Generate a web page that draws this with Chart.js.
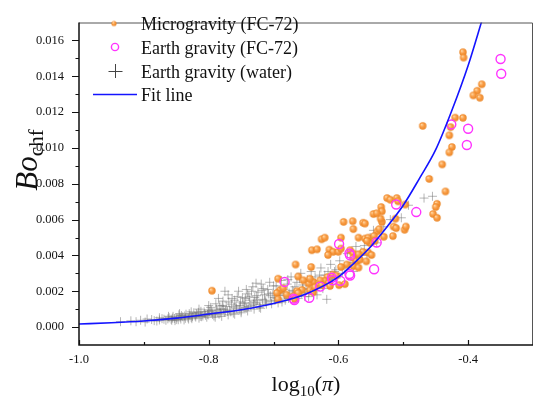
<!DOCTYPE html>
<html><head><meta charset="utf-8">
<script src="https://cdn.jsdelivr.net/npm/chart.js@4/dist/chart.umd.min.js"></script>
<style>html,body{margin:0;padding:0;background:#fff;}#wrap{width:540px;height:404px;}</style>
</head><body><div id="wrap"><canvas id="c" width="540" height="404"></canvas></div>
<script>
// ---- tick values ----
const xTickValues = [-1.0, -0.8, -0.6, -0.4];
const xMinorValues = [-0.9, -0.7, -0.5];
const yTickValues = [0.000, 0.002, 0.004, 0.006, 0.008, 0.010, 0.012, 0.014, 0.016];
const yMinorValues = [0.001, 0.003, 0.005, 0.007, 0.009, 0.011, 0.013, 0.015];

// ---- series labels ----
const seriesLabels = ['Microgravity (FC-72)', 'Earth gravity (FC-72)', 'Earth gravity (water)', 'Fit line'];

// ---- Microgravity (FC-72) ----
const microX = [-0.408,-0.407,-0.379,-0.386,-0.392,-0.382,-0.420,-0.408,-0.470,-0.427,
-0.429,-0.425,-0.429,-0.440,-0.460,-0.435,-0.448,-0.450,-0.525,-0.520,
-0.510,-0.508,-0.497,-0.534,-0.533,-0.454,-0.448,-0.512,-0.498,-0.496,
-0.515,-0.511,-0.533,-0.535,-0.546,-0.541,-0.530,-0.516,-0.540,-0.537,
-0.562,-0.578,-0.592,-0.577,-0.569,-0.559,-0.554,-0.545,-0.544,-0.551,
-0.596,-0.626,-0.621,-0.641,-0.633,-0.614,-0.608,-0.616,-0.600,-0.596,
-0.582,-0.577,-0.666,-0.642,-0.577,-0.572,-0.567,-0.557,-0.562,-0.554,
-0.569,-0.549,-0.587,-0.577,-0.569,-0.596,-0.617,-0.609,-0.603,-0.621,
-0.628,-0.639,-0.646,-0.662,-0.654,-0.644,-0.656,-0.664,-0.644,-0.639,
-0.693,-0.690,-0.695,-0.693,-0.669,-0.667,-0.680,-0.626,-0.615,-0.599,
-0.590,-0.613,-0.636,-0.685,-0.662,-0.795,-0.559,-0.556];
const microY = [0.01534,0.01504,0.01355,0.01319,0.01293,0.01280,0.01169,0.01168,0.01123,0.01116,
0.01070,0.01005,0.00975,0.00908,0.00827,0.00757,0.00688,0.00670,0.00720,0.00711,
0.00720,0.00702,0.00684,0.00670,0.00646,0.00631,0.00610,0.00605,0.00543,0.00561,
0.00561,0.00552,0.00587,0.00605,0.00631,0.00635,0.00504,0.00508,0.00534,0.00547,
0.00582,0.00591,0.00587,0.00547,0.00499,0.00494,0.00499,0.00508,0.00481,0.00469,
0.00499,0.00490,0.00499,0.00429,0.00434,0.00432,0.00420,0.00402,0.00420,0.00438,
0.00429,0.00411,0.00349,0.00335,0.00385,0.00367,0.00376,0.00367,0.00420,0.00416,
0.00406,0.00402,0.00349,0.00340,0.00332,0.00335,0.00279,0.00293,0.00287,0.00258,
0.00261,0.00252,0.00243,0.00282,0.00261,0.00270,0.00208,0.00200,0.00205,0.00194,
0.00270,0.00205,0.00190,0.00155,0.00173,0.00155,0.00181,0.00234,0.00247,0.00234,
0.00240,0.00229,0.00222,0.00217,0.00190,0.00203,0.00578,0.00481];

// ---- Earth gravity (FC-72) ----
const earthX = [-0.350,-0.349,-0.426,-0.400,-0.402,-0.511,-0.480,-0.599,-0.541,-0.583,-0.582,
-0.545,-0.583,-0.582,-0.610,-0.597,-0.609,-0.628,-0.683,-0.645,-0.669,-0.668];
const earthY = [0.01496,0.01414,0.01131,0.01107,0.01016,0.00684,0.00642,0.00464,0.00472,0.00411,0.00400,
0.00323,0.00296,0.00288,0.00275,0.00258,0.00261,0.00226,0.00252,0.00164,0.00159,0.00151];

// ---- Earth gravity (water) ----
const waterX = [-0.912,-0.905,-0.898,-0.888,-0.880,-0.872,-0.866,-0.861,
-0.858,-0.855,-0.852,-0.849,-0.846,-0.843,-0.840,-0.838,-0.835,-0.832,-0.829,-0.826,-0.823,-0.820,-0.818,-0.815,-0.812,-0.809,-0.806,-0.803,-0.801,-0.800,
-0.797,-0.795,-0.792,-0.789,-0.786,-0.784,-0.781,-0.778,-0.776,-0.773,-0.770,-0.768,-0.765,-0.762,-0.760,-0.757,-0.754,-0.752,-0.750,-0.748,
-0.745,-0.742,-0.740,-0.737,-0.735,-0.732,-0.729,-0.727,-0.724,-0.722,-0.719,-0.717,-0.714,-0.711,-0.709,-0.706,-0.704,-0.701,-0.699,
-0.696,-0.693,-0.690,-0.688,-0.685,-0.682,-0.679,-0.676,-0.673,-0.670,-0.667,-0.664,-0.661,-0.658,-0.655,-0.652,
-0.648,-0.645,-0.642,-0.639,-0.636,-0.633,-0.630,-0.627,-0.624,-0.621,-0.618,-0.615,-0.612,-0.609,-0.606,-0.603,
-0.598,-0.594,-0.590,-0.586,-0.582,-0.577,-0.573,-0.569,-0.565,-0.560,-0.556,-0.551,-0.546,-0.541,
-0.530,-0.520,-0.503,-0.492,-0.468,-0.455,
-0.856,-0.850,-0.844,-0.837,-0.831,-0.825,-0.819,-0.813,-0.807,-0.802,-0.796,-0.790,-0.783,-0.777,-0.771,-0.764,-0.758,-0.751,-0.744,-0.738,
-0.731,-0.725,-0.718,-0.712,-0.705,-0.698,-0.691,-0.684,-0.677,-0.669,-0.662,-0.655,
-0.884,-0.876,-0.869,-0.863,-0.857,-0.853,-0.847,-0.842,-0.836,-0.830,
-0.827,-0.821,-0.816,-0.811,-0.805,-0.799,-0.794,-0.788,-0.782,-0.779,
-0.774,-0.769,-0.766,-0.761,-0.756,-0.753,-0.747,-0.743,-0.739,-0.734,
-0.730,-0.726,-0.721,-0.716,-0.713,-0.708,-0.703,-0.700,-0.695,-0.692,
-0.687,-0.683,-0.678,-0.674,-0.671,-0.665,-0.660,-0.657,-0.650,-0.646,
-0.640,-0.635,-0.629,-0.622,-0.616,-0.610,-0.604,-0.800,-0.785,-0.775,
-0.742,-0.727,-0.815,-0.827,-0.845,-0.862,-0.876,-0.895,-0.920,-0.936,
-0.790,-0.780,-0.770,-0.760,-0.750,-0.740,-0.730,-0.720];
const waterY = [0.00030,0.00038,0.00028,0.00042,0.00034,0.00047,0.00038,0.00052,
0.00044,0.00060,0.00036,0.00052,0.00068,0.00045,0.00058,0.00040,0.00072,0.00052,0.00063,0.00047,0.00080,0.00056,0.00068,0.00050,0.00088,0.00062,0.00074,0.00055,0.00096,0.00068,
0.00110,0.00080,0.00062,0.00130,0.00090,0.00072,0.00100,0.00145,0.00082,0.00115,0.00180,0.00095,0.00128,0.00078,0.00150,0.00105,0.00200,0.00120,0.00090,0.00165,
0.00135,0.00105,0.00185,0.00150,0.00120,0.00225,0.00165,0.00135,0.00195,0.00110,0.00240,0.00155,0.00180,0.00128,0.00210,0.00250,0.00145,0.00190,0.00165,
0.00230,0.00135,0.00175,0.00260,0.00210,0.00150,0.00240,0.00190,0.00280,0.00165,0.00225,0.00250,0.00180,0.00300,0.00215,0.00170,
0.00265,0.00195,0.00310,0.00230,0.00280,0.00180,0.00250,0.00330,0.00215,0.00290,0.00155,0.00265,0.00350,0.00240,0.00310,0.00275,
0.00370,0.00300,0.00330,0.00410,0.00360,0.00310,0.00450,0.00390,0.00420,0.00455,0.00400,0.00500,0.00540,0.00470,
0.00560,0.00600,0.00610,0.00680,0.00720,0.00730,
0.00050,0.00042,0.00055,0.00062,0.00045,0.00058,0.00075,0.00060,0.00085,0.00070,0.00092,0.00075,0.00118,0.00100,0.00088,0.00160,0.00118,0.00140,0.00110,0.00172,
0.00128,0.00150,0.00205,0.00140,0.00175,0.00150,0.00200,0.00178,0.00160,0.00200,0.00160,0.00235,
0.00036,0.00040,0.00044,0.00046,0.00038,0.00048,0.00041,0.00064,0.00049,0.00075,
0.00054,0.00062,0.00082,0.00058,0.00066,0.00088,0.00070,0.00100,0.00078,0.00120,
0.00090,0.00140,0.00085,0.00112,0.00170,0.00095,0.00130,0.00160,0.00115,0.00200,
0.00140,0.00175,0.00125,0.00215,0.00150,0.00185,0.00130,0.00230,0.00160,0.00200,
0.00140,0.00185,0.00265,0.00160,0.00205,0.00185,0.00270,0.00190,0.00210,0.00170,
0.00260,0.00205,0.00290,0.00240,0.00310,0.00270,0.00320,0.00120,0.00160,0.00200,
0.00210,0.00245,0.00100,0.00085,0.00075,0.00060,0.00052,0.00045,0.00035,0.00030,
0.00055,0.00060,0.00068,0.00072,0.00080,0.00090,0.00100,0.00105];

// ---- Fit line ----
const fitX = [-1.0,-0.95,-0.9,-0.85,-0.8,-0.75,-0.7,-0.65,-0.6,-0.575,-0.55,-0.525,-0.5,-0.475,-0.45,-0.425,-0.4,-0.378];
const fitY = [0.00017,0.00024,0.00034,0.00050,0.00073,0.00097,0.00132,0.00185,0.0028,0.0036,0.0045,0.0056,0.0068,0.0083,0.0099,0.0121,0.0146,0.0172];

const toPts = (xs, ys) => xs.map((x, i) => ({x: x, y: ys[i]}));

// orange shaded sphere marker
function sphere(r) {
  const s = Math.ceil(r * 2 + 2), c = document.createElement('canvas');
  c.width = s; c.height = s;
  const g = c.getContext('2d'), cx = s / 2, cy = s / 2;
  const grd = g.createRadialGradient(cx - r * 0.35, cy - r * 0.4, 0.3, cx, cy, r);
  grd.addColorStop(0, '#ffd9a6');
  grd.addColorStop(0.45, '#fba04a');
  grd.addColorStop(1, '#ea8423');
  g.fillStyle = grd;
  g.beginPath(); g.arc(cx, cy, r, 0, Math.PI * 2); g.fill();
  return c;
}
const orangeDot = sphere(3.7);
const orangeLegendDot = sphere(2.6);

const SERIF = "'Liberation Serif', 'Times New Roman', serif";
const MAGENTA = '#ff33ff';
const BLUE = '#1414ff';
const CROSS = 'rgba(110,110,110,0.5)';

const decor = {
  id: 'decor',
  afterDatasetsDraw(chart) {
    const {ctx, chartArea: a, scales: {x, y}} = chart;
    ctx.save();
    // top/right frame
    ctx.strokeStyle = '#555'; ctx.lineWidth = 1;
    ctx.beginPath();
    ctx.moveTo(a.left, a.top + 0.5); ctx.lineTo(a.right - 0.5, a.top + 0.5); ctx.lineTo(a.right - 0.5, a.bottom);
    ctx.stroke();
    // left/bottom axes
    ctx.strokeStyle = '#111'; ctx.lineWidth = 1.5;
    ctx.beginPath();
    ctx.moveTo(a.left, a.top); ctx.lineTo(a.left, a.bottom); ctx.lineTo(a.right, a.bottom);
    ctx.stroke();
    // y ticks (outward)
    ctx.lineWidth = 1.2;
    ctx.beginPath();
    yTickValues.forEach(v => { const p = Math.round(y.getPixelForValue(v)) + 0.5; ctx.moveTo(a.left - 7, p); ctx.lineTo(a.left, p); });
    yMinorValues.forEach(v => { const p = Math.round(y.getPixelForValue(v)) + 0.5; ctx.moveTo(a.left - 3.5, p); ctx.lineTo(a.left, p); });
    // x ticks (inward)
    xTickValues.forEach(v => { const p = Math.round(x.getPixelForValue(v)) + 0.5; ctx.moveTo(p, a.bottom); ctx.lineTo(p, a.bottom - 5); });
    xMinorValues.forEach(v => { const p = Math.round(x.getPixelForValue(v)) + 0.5; ctx.moveTo(p, a.bottom); ctx.lineTo(p, a.bottom - 3); });
    ctx.stroke();

    // legend
    const lx = 114, tx = 141, rows = [23.5, 47, 71, 94.5];
    ctx.drawImage(orangeLegendDot, lx - orangeLegendDot.width / 2, rows[0] - orangeLegendDot.height / 2);
    ctx.strokeStyle = MAGENTA; ctx.lineWidth = 1.4;
    ctx.beginPath(); ctx.arc(lx + 1, rows[1], 3.6, 0, Math.PI * 2); ctx.stroke();
    ctx.strokeStyle = '#444'; ctx.lineWidth = 1;
    ctx.beginPath(); ctx.moveTo(lx + 1.5 - 7, rows[2] + 0.5); ctx.lineTo(lx + 1.5 + 7, rows[2] + 0.5);
    ctx.moveTo(lx + 1.5, rows[2] - 7); ctx.lineTo(lx + 1.5, rows[2] + 7); ctx.stroke();
    ctx.strokeStyle = BLUE; ctx.lineWidth = 1.6;
    ctx.beginPath(); ctx.moveTo(93, rows[3]); ctx.lineTo(137, rows[3]); ctx.stroke();
    ctx.fillStyle = '#111'; ctx.font = '18px ' + SERIF; ctx.textBaseline = 'alphabetic'; ctx.textAlign = 'left';
    seriesLabels.forEach((t, i) => ctx.fillText(t, tx, rows[i] + 6.5));

    // x axis title: log10(π)
    const cxT = (a.left + a.right) / 2;
    const parts = [
      {t: 'log', f: '22px ' + SERIF, dy: 0},
      {t: '10', f: '15px ' + SERIF, dy: 5},
      {t: '(', f: '22px ' + SERIF, dy: 0},
      {t: 'π', f: 'italic 22px ' + SERIF, dy: 0},
      {t: ')', f: '22px ' + SERIF, dy: 0}
    ];
    let w = 0; parts.forEach(p => { ctx.font = p.f; p.w = ctx.measureText(p.t).width; w += p.w; });
    let px = cxT - w / 2; const base = 391;
    parts.forEach(p => { ctx.font = p.f; ctx.fillText(p.t, px, base + p.dy); px += p.w; });

    // y axis title: Bo_chf (rotated)
    ctx.translate(37, 160); ctx.rotate(-Math.PI / 2);
    const yp = [
      {t: 'Bo', f: 'italic 31px ' + SERIF, dy: 0},
      {t: 'chf', f: '21px ' + SERIF, dy: 6}
    ];
    w = 0; yp.forEach(p => { ctx.font = p.f; p.w = ctx.measureText(p.t).width; w += p.w; });
    px = -w / 2;
    yp.forEach(p => { ctx.font = p.f; ctx.fillText(p.t, px, p.dy); px += p.w; });
    ctx.restore();
  }
};

new Chart(document.getElementById('c'), {
  type: 'scatter',
  data: {
    datasets: [
      {label: seriesLabels[3], data: toPts(fitX, fitY), showLine: true, pointRadius: 0, borderColor: BLUE, borderWidth: 1.6,
       cubicInterpolationMode: 'monotone', fill: false, order: 0},
      {label: seriesLabels[1], data: toPts(earthX, earthY), pointStyle: 'circle', pointRadius: 4.5, borderColor: MAGENTA,
       backgroundColor: 'rgba(0,0,0,0)', borderWidth: 1.4, order: 1},
      {label: seriesLabels[0], data: toPts(microX, microY), pointStyle: orangeDot, pointRadius: 4, order: 2},
      {label: seriesLabels[2], data: toPts(waterX, waterY), pointStyle: 'cross', pointRadius: 4.5, borderColor: CROSS,
       borderWidth: 1, order: 3}
    ]
  },
  options: {
    responsive: false, animation: false, devicePixelRatio: 1,
    layout: {padding: {left: 0, right: 7, top: 5, bottom: 0}},
    plugins: {legend: {display: false}, tooltip: {enabled: false}},
    scales: {
      x: {
        type: 'linear', min: -1.0, max: -0.3,
        afterFit: s => { s.height = 59; },
        afterBuildTicks: s => { s.ticks = xTickValues.map(v => ({value: v})); },
        grid: {display: false, drawTicks: false}, border: {display: false},
        ticks: {padding: 7, color: '#111', font: {family: SERIF, size: 12.5}, callback: v => v.toFixed(1)}
      },
      y: {
        type: 'linear', min: -0.001, max: 0.017,
        afterFit: s => { s.width = 79; },
        afterBuildTicks: s => { s.ticks = yTickValues.map(v => ({value: v})); },
        grid: {display: false, drawTicks: false}, border: {display: false},
        ticks: {padding: 15, color: '#111', font: {family: SERIF, size: 12.5}, callback: v => v.toFixed(3)}
      }
    }
  },
  plugins: [decor]
});
</script>
</body></html>
